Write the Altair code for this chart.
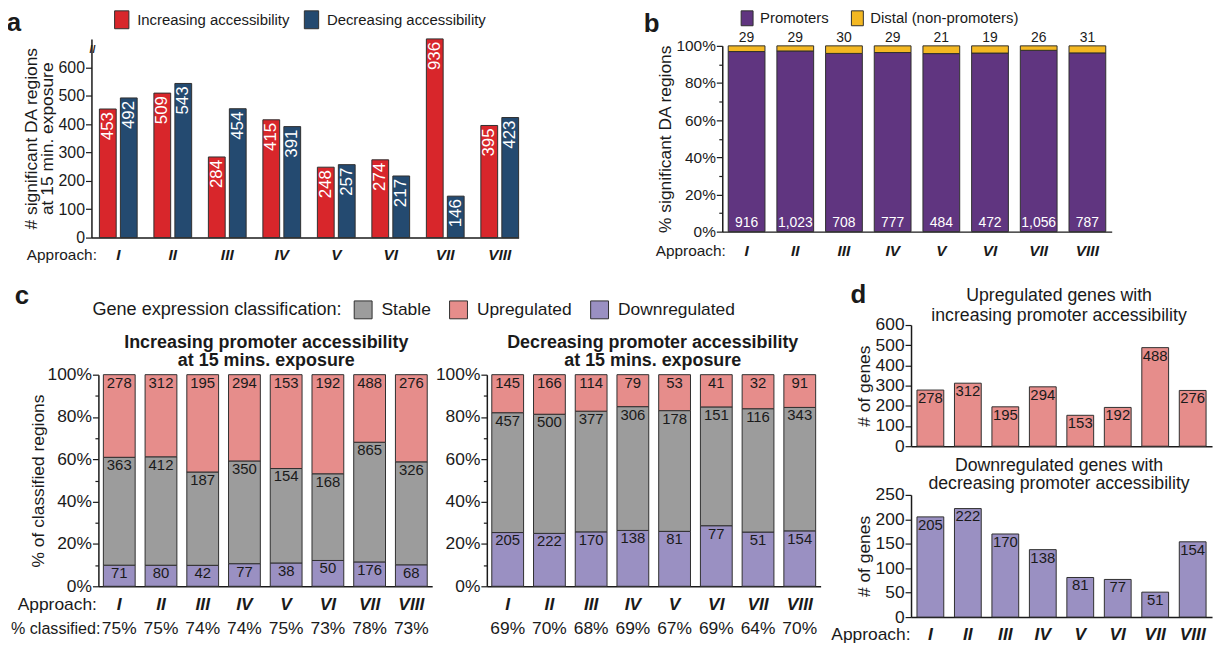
import altair as alt
import pandas as pd

FONT = "Liberation Sans, Arial, Helvetica, sans-serif"
INK = "#1a1a1a"
EDGE = "#2f2f2f"
PAGE_W, PAGE_H = 1225, 646

approaches = ["I", "II", "III", "IV", "V", "VI", "VII", "VIII"]

# panel a: significant DA regions
increasing_da = [453, 509, 284, 415, 248, 274, 936, 395]
decreasing_da = [492, 543, 454, 391, 257, 217, 146, 423]
# panel b: promoter vs distal
promoter_counts = [916, 1023, 708, 777, 484, 472, 1056, 787]
distal_counts = [29, 29, 30, 29, 21, 19, 26, 31]
# panel c: increasing promoter accessibility
inc_up = [278, 312, 195, 294, 153, 192, 488, 276]
inc_stable = [363, 412, 187, 350, 154, 168, 865, 326]
inc_down = [71, 80, 42, 77, 38, 50, 176, 68]
inc_pct = [75, 75, 74, 74, 75, 73, 78, 73]
# panel c: decreasing promoter accessibility
dec_up = [145, 166, 114, 79, 53, 41, 32, 91]
dec_stable = [457, 500, 377, 306, 178, 151, 116, 343]
dec_down = [205, 222, 170, 138, 81, 77, 51, 154]
dec_pct = [69, 70, 68, 69, 67, 69, 64, 70]

# tick values
a_ticks = [0, 100, 200, 300, 400, 500, 600]
pct_ticks = [0, 0.1, 0.2, 0.3, 0.4, 0.5, 0.6, 0.7, 0.8, 0.9, 1.0]
d_up_ticks = [0, 100, 200, 300, 400, 500, 600]
d_down_ticks = [0, 50, 100, 150, 200, 250]

RED, BLUE = "#d8262b", "#244a70"
PURPLE, YELLOW = "#603580", "#f4b822"
GRAY, PINK, LAV = "#9c9c9c", "#e68d8b", "#9a90c2"
RECT = "M-0.8,-1H0.8V1H-0.8Z"
MAJOR = "round(datum.value*100) % 20 == 0"


def x_axis(axis_y, size, center, title=None, title_x=0, labels=True):
    kw = dict(orient="bottom", offset=-(PAGE_H - axis_y), labelAngle=0, labelFontSize=size,
              labelFontStyle="italic", labelFontWeight="bold", labelBaseline="middle",
              labelPadding=center, ticks=False, tickSize=0, labels=labels, domainWidth=1.5)
    if title:
        kw.update(title=title, titleX=title_x, titleY=center, titleAlign="right",
                  titleBaseline="middle", titleFontSize=size, titleFontWeight="normal")
    else:
        kw.update(title=None)
    return alt.Axis(**kw)


def pct_axis(axis_x, title=None, size=17.5, title_pad=1):
    kw = dict(orient="left", offset=-axis_x, values=pct_ticks, format=".0%",
              labelExpr=MAJOR + " ? datum.label : ''",
              tickSize={"condition": {"test": MAJOR, "value": 6}, "value": 3.5},
              labelFontSize=size, labelPadding=1, domainWidth=1.5)
    if title:
        kw.update(title=title, titleFontSize=17.5, titlePadding=title_pad)
    else:
        kw.update(title=None)
    return alt.Axis(**kw)


def note(txt, x, y, size=17.5, weight="normal", lh=18, align="center", baseline="middle"):
    return alt.Chart(pd.DataFrame({"t": [txt]})).mark_text(
        font=FONT, fontSize=size, fontWeight=weight, color=INK, align=align,
        baseline=baseline, lineBreak="\n", lineHeight=lh).encode(
        text="t:N", x=alt.value(x), y=alt.value(y))


def letter(ch, x, y):
    return note(ch, x, y, size=26, weight="bold", baseline="alphabetic")


# ---------------- panel a ----------------
dir_names = ["Increasing accessibility", "Decreasing accessibility"]
df_a = pd.DataFrame({"approach": approaches * 2,
                     "direction": [dir_names[0]] * 8 + [dir_names[1]] * 8,
                     "count": increasing_da + decreasing_da})
xa = alt.X("approach:N", scale=alt.Scale(domain=approaches, range=[92, 522], paddingInner=0.307,
                                         paddingOuter=0.073, align=1),
           axis=x_axis(237, 15.5, 17, "Approach:", 97))
xoa = alt.XOffset("direction:N", scale=alt.Scale(domain=dir_names, paddingInner=0.2))
ya = alt.Y("count:Q", scale=alt.Scale(domain=[0, 700], range=[237, 37], clamp=True, nice=False),
           axis=alt.Axis(orient="left", offset=-92, values=a_ticks,
                         title=["# significant DA regions", "at 15 min. exposure"],
                         titleFontSize=17.5, titleLineHeight=16, titlePadding=2,
                         labelFontSize=16, labelPadding=1, tickSize=6, domainWidth=1.5))
color_a = alt.Color("direction:N", scale=alt.Scale(domain=dir_names, range=[RED, BLUE]),
                    legend=alt.Legend(orient="none", direction="horizontal", legendX=113,
                                      legendY=8, title=None, symbolType=RECT, symbolSize=324,
                                      symbolStrokeColor=EDGE, symbolStrokeWidth=1,
                                      labelFontSize=15, labelOffset=6, columnPadding=12,
                                      labelLimit=400, padding=0))
bars_a = alt.Chart(df_a).mark_bar(stroke=EDGE, strokeWidth=1).encode(
    x=xa, xOffset=xoa, y=ya, color=color_a)
labels_a = alt.Chart(df_a).mark_text(font=FONT, angle=270, align="right", baseline="middle",
                                     dx=-3, color="white", fontSize=17).encode(
    x=xa, xOffset=xoa, y=ya, text="count:Q")
panel_a = alt.layer(bars_a, labels_a)

# ---------------- panel b ----------------
reg_names = ["Promoters", "Distal (non-promoters)"]
df_b = pd.DataFrame({"approach": approaches * 2,
                     "region": [reg_names[0]] * 8 + [reg_names[1]] * 8,
                     "count": promoter_counts + distal_counts,
                     "order": [0] * 8 + [1] * 8})
xb = alt.X("approach:N", scale=alt.Scale(domain=approaches, range=[727, 1119],
                                         paddingInner=0.245, paddingOuter=0.122),
           axis=x_axis(231, 15.5, 19, "Approach:", 730))
yb_scale = alt.Scale(domain=[0, 1], range=[231, 44], nice=False)
base_b = alt.Chart(df_b).transform_stack(
    stack="count", groupby=["approach"], as_=["y0", "y1"], offset="normalize",
    sort=[alt.SortField("order", "ascending")])
bars_b = base_b.mark_bar(stroke=EDGE, strokeWidth=1).encode(
    x=xb,
    y=alt.Y("y0:Q", scale=yb_scale, axis=pct_axis(727, "% significant DA regions", 15.5, 1)),
    y2="y1:Q",
    color=alt.Color("region:N", scale=alt.Scale(domain=reg_names, range=[PURPLE, YELLOW]),
                    legend=alt.Legend(orient="none", direction="horizontal", legendX=744,
                                      legendY=8, title=None, symbolType=RECT, symbolSize=225,
                                      symbolStrokeColor=EDGE, symbolStrokeWidth=1,
                                      labelFontSize=15, labelOffset=5, columnPadding=20,
                                      labelLimit=400, padding=0)))
prom_lab = base_b.transform_filter(alt.datum.region == reg_names[0]).mark_text(
    font=FONT, fontSize=14, color="white", baseline="middle", dy=-9).encode(
    x=xb, y=alt.Y("y0:Q", scale=yb_scale), text=alt.Text("count:Q", format=","))
dist_lab = base_b.transform_filter(alt.datum.region == reg_names[1]).mark_text(
    font=FONT, fontSize=14, color=INK, baseline="middle", dy=-8).encode(
    x=xb, y=alt.Y("y1:Q", scale=yb_scale), text=alt.Text("count:Q", format=","))
panel_b = alt.layer(bars_b, prom_lab, dist_lab)

# ---------------- panel c ----------------
cls_names = ["Stable", "Upregulated", "Downregulated"]
C_TOP, C_BOT = 375, 588


def c_panel(up, stable, down, pct, x0, ytitle, legend, approach_title):
    df = pd.DataFrame({"approach": approaches * 3,
                       "cls": ["Downregulated"] * 8 + ["Stable"] * 8 + ["Upregulated"] * 8,
                       "count": down + stable + up,
                       "order": [0] * 8 + [1] * 8 + [2] * 8})
    x = alt.X("approach:N", scale=alt.Scale(domain=approaches, range=[x0, x0 + 336],
                                            paddingInner=0.238, paddingOuter=0.119),
              axis=x_axis(C_BOT, 17.5, 18, approach_title, x0 - 2))
    ysc = alt.Scale(domain=[0, 1], range=[C_BOT, C_TOP], nice=False)
    base = alt.Chart(df).transform_stack(
        stack="count", groupby=["approach"], as_=["y0", "y1"], offset="normalize",
        sort=[alt.SortField("order", "ascending")])
    bars = base.mark_bar(stroke=EDGE, strokeWidth=1).encode(
        x=x, y=alt.Y("y0:Q", scale=ysc, axis=pct_axis(x0, ytitle, 17.5, 0)), y2="y1:Q",
        color=alt.Color("cls:N", scale=alt.Scale(domain=cls_names, range=[GRAY, PINK, LAV]),
                        legend=legend))
    labs = base.mark_text(font=FONT, fontSize=15, color=INK, baseline="top", dy=1).encode(
        x=x, y=alt.Y("y1:Q", scale=ysc), text="count:Q")
    pdf = pd.DataFrame({"approach": approaches, "pct": pct})
    prow = alt.Chart(pdf).transform_calculate(lbl="datum.pct + '%'").mark_text(
        font=FONT, fontSize=17.5, color=INK, baseline="middle").encode(
        x=x, y=alt.value(631), text="lbl:N")
    return alt.layer(bars, labs, prow)


legend_c = alt.Legend(orient="none", direction="horizontal", legendX=93, legendY=300,
                      title="Gene expression classification:", titleOrient="left",
                      titleFontSize=18.2, titleFontWeight="normal", titlePadding=12,
                      titleLimit=500, labelLimit=400,
                      symbolType="square", symbolSize=324, symbolStrokeColor=EDGE,
                      symbolStrokeWidth=1, labelFontSize=17.5, labelOffset=9,
                      columnPadding=16, padding=0)
c_left = c_panel(inc_up, inc_stable, inc_down, inc_pct, 99,
                 "% of classified regions", legend_c, "Approach:")
c_right = c_panel(dec_up, dec_stable, dec_down, dec_pct, 490, None, None, None)

# ---------------- panel d ----------------
D_X0, D_X1 = 917, 1220


def d_panel(values, color, ticks, top, bot, approach_labels):
    df = pd.DataFrame({"approach": approaches, "count": values})
    if approach_labels:
        xaxis = x_axis(bot, 17.5, 18, "Approach:", D_X0 - 1)
    else:
        xaxis = alt.Axis(orient="bottom", offset=-(PAGE_H - bot), labels=False, ticks=False,
                         tickSize=0, title=None, domainWidth=1.5)
    x = alt.X("approach:N", scale=alt.Scale(domain=approaches, range=[D_X0, D_X1],
                                            paddingInner=0.285, paddingOuter=0.159), axis=xaxis)
    y = alt.Y("count:Q", scale=alt.Scale(domain=[0, ticks[-1]], range=[bot, top], nice=False),
              axis=alt.Axis(orient="left", offset=-D_X0, values=ticks, title="# of genes",
                            titleFontSize=17.5, titlePadding=2, labelFontSize=17.5,
                            labelPadding=1, tickSize=6, domainWidth=1.5))
    bars = alt.Chart(df).mark_bar(color=color, stroke=EDGE, strokeWidth=1).encode(x=x, y=y)
    labs = alt.Chart(df).mark_text(font=FONT, fontSize=15, color=INK, baseline="top",
                                   dy=1).encode(x=x, y=y, text="count:Q")
    return alt.layer(bars, labs)


d_top = d_panel(inc_up, PINK, d_up_ticks, 325, 447, False)
d_bot = d_panel(dec_down, LAV, d_down_ticks, 496, 619, True)

annotations = [
    letter("a", 14, 29), letter("b", 656, 30), letter("c", 22, 304), letter("d", 864, 303),
    note("//", 93, 48, size=11, weight="bold"),
    note("Increasing promoter accessibility\nat 15 mins. exposure", 268, 343,
         size=18, weight="bold", lh=18),
    note("Decreasing promoter accessibility\nat 15 mins. exposure", 657, 343,
         size=18, weight="bold", lh=18),
    note("Upregulated genes with\nincreasing promoter accessibility", 1066, 296,
         size=17.8, lh=20),
    note("Downregulated genes with\ndecreasing promoter accessibility", 1066, 467,
         size=17.8, lh=18),
    note("% classified:", 101, 631, size=16.2, align="right"),
]

chart = alt.layer(panel_a, panel_b, c_left, c_right, d_top, d_bot, *annotations).resolve_scale(
    x="independent", y="independent", color="independent", xOffset="independent"
).properties(
    width=PAGE_W, height=PAGE_H,
    autosize=alt.AutoSizeParams(type="none"),
    padding={"left": -8, "top": -8, "right": 0, "bottom": 0},
).configure(font=FONT).configure_view(stroke=None).configure_axis(
    labelFont=FONT, titleFont=FONT, labelColor=INK, titleColor=INK, domainColor=INK,
    tickColor=INK, tickWidth=1.2, grid=False, titleFontWeight="normal"
).configure_legend(labelFont=FONT, titleFont=FONT, labelColor=INK, titleColor=INK)

chart.save("out.html", embed_options={"renderer": "svg", "actions": False})
